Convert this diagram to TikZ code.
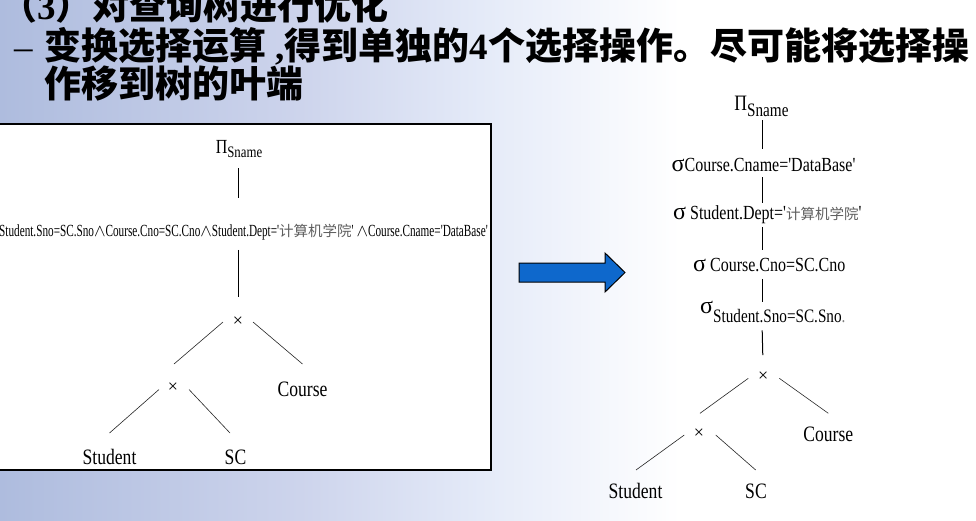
\documentclass[tikz,border=0pt]{standalone}
\usepackage{fontspec}
\setmainfont{Liberation Serif}
\newfontfamily\zhfont{Noto Sans CJK SC}
\newfontfamily\treefont[FakeStretch=0.8,Ligatures=TeXOff]{Liberation Serif}
\newfontfamily\condfont[FakeStretch=0.66,Ligatures=TeXOff]{Liberation Serif}
\newcommand\fsz[1]{\fontsize{#1}{#1}\selectfont}

\definecolor{bgA}{RGB}{174,188,222}
\definecolor{bgB}{RGB}{205,212,236}
\definecolor{bgC}{RGB}{228,234,248}
\definecolor{arrowblue}{RGB}{14,104,204}
\definecolor{zhgray}{RGB}{95,95,95}

\begin{document}
\begin{tikzpicture}[x=1pt,y=-1pt,
  title/.style={anchor=base west, inner sep=0pt, font=\zhfont\bfseries\fsz{37}},
  leaf/.style={anchor=base, inner sep=0pt, font=\treefont\fsz{22}},
  cross/.style={inner sep=0pt, font=\rmfamily\fsz{18}},
  sel/.style={anchor=base west, inner sep=0pt, font=\treefont\fsz{20}},
  vline/.style={line width=1pt, black},
  dline/.style={line width=0.6pt, black!85}]

\useasboundingbox (0,0) rectangle (976,520);
\clip (0,0) rectangle (976,520);

% slide background: soft blue fading to white towards the right
\shade[left color=bgA, right color=bgB] (0,0) rectangle (300,520);
\shade[left color=bgB, right color=bgC] (300,0) rectangle (480,520);
\shade[left color=bgC, right color=white] (480,0) rectangle (680,520);
\fill[white] (680,0) rectangle (976,520);

% heading lines
\node[title] (head1) at (0,19.5) {（{\rmfamily 3}）对查询树进行优化};
\node[anchor=base west, inner sep=0pt, font=\rmfamily\fsz{37}] (bullet) at (14,59.5) {–};
\node[title] (head2) at (44,59.5) {变换选择运算{\rmfamily\ ,}得到单独的{\rmfamily 4}个选择操作。尽可能将选择操};
\node[title] (head3) at (44,97.5) {作移到树的叶端};

% ---------------- original query tree ----------------
\draw[line width=1.2pt, fill=white] (-10,124) rectangle (491,470);
\coordinate (lx) at (238,0);

\node[anchor=base, inner sep=0pt, font=\treefont\fsz{20}] (lproj) at (239,153)
  {Π\raisebox{-4pt}{\fsz{16}Sname}};
\node[anchor=base west, inner sep=0pt, font=\condfont\fsz{17}] (lsel) at (-1,236)
  {Student.Sno=SC.Sno$\wedge$Course.Cno=SC.Cno$\wedge$Student.Dept='{\zhfont\fsz{14.5}\color{zhgray}计算机学院}' $\wedge$Course.Cname='DataBase'};
\node[cross] (lj1) at (238,322) {×};
\node[cross] (lj2) at (173,388) {×};
\node[leaf] (lcourse) at (302.5,396) {Course};
\node[leaf] (lstudent) at (109.5,464) {Student};
\node[leaf] (lsc) at (235.5,464) {SC};

\draw[vline, shorten <=11pt, shorten >=25pt] (lproj.south -| lx) -- (lsel.north -| lx);
\draw[vline, shorten <=10pt, shorten >=25pt] (lsel.south -| lx) -- (lj1.center);
\draw[dline] ([shift={(-15,0)}]lj1.center) -- ([shift={(1,-24)}]lj2.center);
\draw[dline] ([shift={(15,0)}]lj1.center) -- ([shift={(0,-32)}]lcourse.base);
\draw[dline] ([shift={(-14,1.5)}]lj2.center) -- ([shift={(0,-31)}]lstudent.base);
\draw[dline] ([shift={(16,1.5)}]lj2.center) -- ([shift={(-5.5,-31)}]lsc.base);

% transformation arrow
\draw[line width=1pt, fill=arrowblue, line join=miter]
  (519,263) -- (605,263) -- (605,253) -- (625,272.5) -- (605,292) -- (605,282) -- (519,282) -- cycle;

% ---------------- optimised query tree ----------------
\coordinate (rx) at (762,0);

\node[anchor=base, inner sep=0pt, font=\treefont\fsz{22}] (rproj) at (761.5,110)
  {Π\raisebox{-6pt}{\fsz{19}Sname}};
\node[sel] (rs1) at (671.5,171) {{\rmfamily\fsz{24}σ}Course.Cname='DataBase'};
\node[sel] (rs2) at (673,219) {{\rmfamily\fsz{24}σ} Student.Dept='{\zhfont\fsz{14.5}\color{zhgray}计算机学院}'};
\node[sel] (rs3) at (693,271) {{\rmfamily\fsz{24}σ} Course.Cno=SC.Cno};
\node[sel] (rs4) at (700,313) {{\rmfamily\fsz{24}σ}\raisebox{-9pt}{\fsz{19}Student.Sno=SC.Sno\textcolor{gray}{.}}};
\node[cross] (rj1) at (763.3,376.7) {×};
\node[cross] (rj2) at (699,433.3) {×};
\node[leaf] (rcourse) at (828.3,441) {Course};
\node[leaf] (rstudent) at (635.5,498) {Student};
\node[leaf] (rsc) at (756,498) {SC};

\draw[vline, shorten <=4pt, shorten >=9pt] (rproj.south -| rx) -- (rs1.north -| rx);
\draw[vline, shorten <=5.7pt, shorten >=2pt] (rs1.south -| rx) -- (rs2.north -| rx);
\draw[vline, shorten <=3.3pt, shorten >=7.4pt] (rs2.south -| rx) -- (rs3.north -| rx);
\draw[vline, shorten <=7.3pt, shorten >=-1pt] (rs3.south -| rx) -- (rs4.north -| rx);
\draw[vline, shorten <=8pt, shorten >=21.7pt] (rs4.south -| rx) -- (rj1.center);
\draw[dline] ([shift={(-15,1.6)}]rj1.center) -- ([shift={(1,-20)}]rj2.center);
\draw[dline] ([shift={(16,1.6)}]rj1.center) -- ([shift={(0,-27.7)}]rcourse.base);
\draw[dline] ([shift={(-14.7,1.7)}]rj2.center) -- ([shift={(0.5,-28)}]rstudent.base);
\draw[dline] ([shift={(16.7,1.7)}]rj2.center) -- ([shift={(-0.3,-28)}]rsc.base);

\end{tikzpicture}
\end{document}
